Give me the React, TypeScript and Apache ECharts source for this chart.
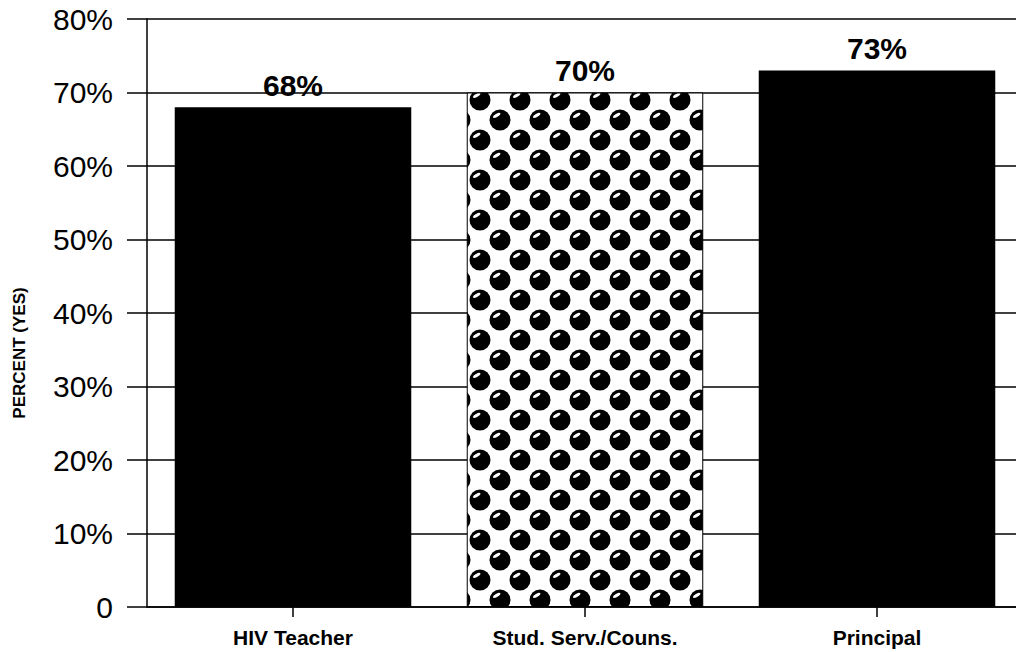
import React, { useEffect, useRef } from "react";
import * as echarts from "echarts";

const categories = ["HIV Teacher", "Stud. Serv./Couns.", "Principal"];
const values = [68, 70, 73];
const yTicks = [0, 10, 20, 30, 40, 50, 60, 70, 80];
const yAxisTitle = "PERCENT (YES)";

const FONT = "'Liberation Sans', Arial, Helvetica, sans-serif";

function makeDotTile(): HTMLCanvasElement {
  const c = document.createElement("canvas");
  c.width = 40;
  c.height = 40;
  const ctx = c.getContext("2d")!;
  ctx.fillStyle = "#ffffff";
  ctx.fillRect(0, 0, 40, 40);
  const centers: [number, number][] = [];
  for (const [bx, by] of [
    [0, 20],
    [20, 0],
  ]) {
    for (const dx of [-40, 0, 40]) {
      for (const dy of [-40, 0, 40]) centers.push([bx + dx, by + dy]);
    }
  }
  for (const [x, y] of centers) {
    ctx.beginPath();
    ctx.fillStyle = "#000000";
    ctx.arc(x, y, 10.5, 0, Math.PI * 2);
    ctx.fill();
  }
  for (const [x, y] of centers) {
    ctx.save();
    ctx.translate(x - 3.3, y - 4.6);
    ctx.rotate(-Math.PI / 6);
    ctx.beginPath();
    ctx.fillStyle = "#ffffff";
    ctx.ellipse(0, 0, 4.2, 1.5, 0, 0, Math.PI * 2);
    ctx.fill();
    ctx.restore();
  }
  return c;
}

export default function App() {
  const ref = useRef<HTMLDivElement>(null);
  useEffect(() => {
    if (!ref.current) return;
    const chart = echarts.init(ref.current, null, { renderer: "svg" });
    const tile = makeDotTile();
    const data = values.map((v, i) =>
      i === 1
        ? {
            value: v,
            itemStyle: {
              color: { image: tile, repeat: "repeat" } as any,
              borderColor: "#000",
              borderWidth: 1,
            },
          }
        : { value: v, itemStyle: { color: "#000" } }
    );
    chart.setOption({
      animation: false,
      backgroundColor: "#fff",
      grid: { left: 147, top: 19, right: 7, bottom: 45, containLabel: false },
      xAxis: {
        type: "category",
        data: categories,
        axisLine: { show: true, lineStyle: { color: "#000", width: 1.5 } },
        axisTick: { show: true, alignWithLabel: true, length: 10, lineStyle: { color: "#000", width: 1.5 } },
        axisLabel: {
          margin: 20,
          color: "#000",
          fontSize: 21,
          fontWeight: "bold",
          fontFamily: FONT,
        },
      },
      yAxis: {
        type: "value",
        min: yTicks[0],
        max: yTicks[yTicks.length - 1],
        interval: 10,
        axisLine: { show: true, lineStyle: { color: "#000", width: 1.5 } },
        axisTick: { show: true, inside: false, length: 20, lineStyle: { color: "#000", width: 1.5 } },
        splitLine: { show: true, lineStyle: { color: "#000", width: 1.5 } },
        axisLabel: {
          margin: 34,
          color: "#000",
          fontSize: 30,
          fontFamily: FONT,
          formatter: (v: number) => (v === 0 ? "0" : v + "%"),
        },
      },
      graphic: [
        {
          type: "text",
          x: 19,
          y: 353,
          rotation: Math.PI / 2,
          style: {
            text: yAxisTitle,
            fill: "#000",
            fontSize: 17,
            fontWeight: "bold",
            fontFamily: FONT,
            textAlign: "center",
            textVerticalAlign: "middle",
          },
        },
      ],
      series: [
        {
          type: "bar",
          data,
          barCategoryGap: "19%",
          label: {
            show: true,
            position: "top",
            distance: 7,
            formatter: "{c}%",
            color: "#000",
            fontSize: 30,
            fontWeight: "bold",
            fontFamily: FONT,
          },
        },
      ],
    });
    return () => chart.dispose();
  }, []);
  return (
    <div
      ref={ref}
      style={{ position: "fixed", left: 0, top: 0, width: 1030, height: 652 }}
    />
  );
}
